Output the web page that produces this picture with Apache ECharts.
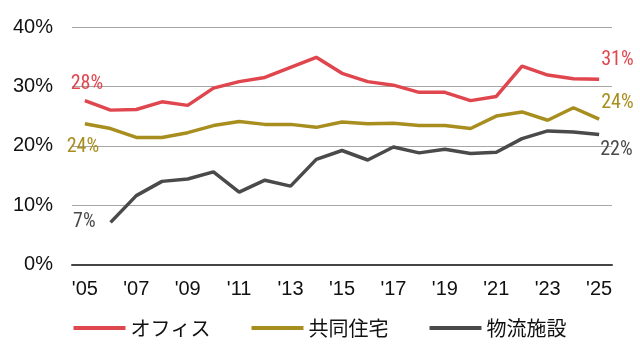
<!DOCTYPE html>
<html>
<head>
<meta charset="utf-8">
<script src="https://cdn.jsdelivr.net/npm/echarts@6/dist/echarts.min.js"></script>
<style>
html,body{margin:0;padding:0;background:#fff;}
#c{width:640px;height:360px;}
</style>
</head>
<body>
<div id="c"></div>
<script>
var years = ["'05","'06","'07","'08","'09","'10","'11","'12","'13","'14","'15","'16","'17","'18","'19","'20","'21","'22","'23","'24","'25"];
var seriesNames = ["オフィス","共同住宅","物流施設"];
var office = [27.6,26.0,26.1,27.4,26.8,29.7,30.8,31.5,33.2,34.9,32.2,30.8,30.2,29.0,29.0,27.6,28.3,33.4,31.9,31.3,31.2];
var housing = [23.7,22.9,21.4,21.4,22.2,23.4,24.1,23.6,23.6,23.1,24.0,23.7,23.8,23.4,23.4,22.9,25.0,25.7,24.3,26.4,24.5];
var logistics = [null,7.1,11.6,14.0,14.4,15.6,12.2,14.2,13.2,17.7,19.2,17.6,19.8,18.8,19.4,18.7,18.9,21.2,22.5,22.3,21.9];
var endLabels = [["28%","31%"],["24%","24%"],["7%","22%"]];
var yTicks = [0,10,20,30,40];

var colors = ['#E0464E','#A88E1F','#4A4A4A'];
var labelFont = '"Liberation Sans Narrow","Roboto Condensed","Roboto",sans-serif';

function buildData(vals, idx, firstIdx, firstOpt, lastOpt){
  return vals.map(function(v,i){
    var item = {value:v};
    if(i===firstIdx){
      item.label = Object.assign({show:true, formatter:endLabels[idx][0]}, firstOpt);
    } else if(i===vals.length-1){
      item.label = Object.assign({show:true, formatter:endLabels[idx][1]}, lastOpt);
    }
    return item;
  });
}

var lblBase = {fontSize:20, fontFamily:labelFont};

var chart = echarts.init(document.getElementById('c'), null, {renderer:'canvas'});
chart.setOption({
  animation:false,
  backgroundColor:'#fff',
  color:colors,
  grid:{left:72, right:28, top:27, bottom:95.5, containLabel:false},
  xAxis:{
    type:'category',
    data:years,
    boundaryGap:true,
    axisTick:{show:false},
    axisLine:{show:true, lineStyle:{color:'#444', width:2}},
    axisLabel:{interval:1, color:'#111', fontSize:20, margin:15, fontFamily:'"Liberation Sans",Arial,sans-serif'}
  },
  yAxis:{
    type:'value',
    min:yTicks[0], max:yTicks[yTicks.length-1], interval:10,
    axisLine:{show:false},
    axisTick:{show:false},
    splitLine:{lineStyle:{color:'#A6A6A6', width:1}},
    axisLabel:{formatter:'{value}%', color:'#111', fontSize:20, margin:19, fontFamily:'"Liberation Sans",Arial,sans-serif'}
  },
  legend:{
    top:313, left:'center',
    itemWidth:52, itemHeight:4, itemGap:41,
    icon:'rect',
    textStyle:{fontSize:20, color:'#111', fontFamily:'"Noto Sans CJK JP",sans-serif'},
    data:seriesNames
  },
  series:[
    {name:seriesNames[0], type:'line', symbol:'circle', symbolSize:0, showSymbol:true,
     lineStyle:{width:3.5, color:colors[0]}, itemStyle:{color:colors[0]},
     data:buildData(office,0,0,
       Object.assign({position:'top', offset:[2,-2], color:colors[0]},lblBase),
       Object.assign({position:'right', offset:[-3,-19], color:colors[0]},lblBase))},
    {name:seriesNames[1], type:'line', symbol:'circle', symbolSize:0, showSymbol:true,
     lineStyle:{width:3.5, color:colors[1]}, itemStyle:{color:colors[1]},
     data:buildData(housing,1,0,
       Object.assign({position:'bottom', offset:[-2,8], color:colors[1]},lblBase),
       Object.assign({position:'right', offset:[-3,-16], color:colors[1]},lblBase))},
    {name:seriesNames[2], type:'line', symbol:'circle', symbolSize:0, showSymbol:true,
     lineStyle:{width:3.5, color:colors[2]}, itemStyle:{color:colors[2]},
     data:buildData(logistics,2,1,
       Object.assign({position:'left', offset:[-10,0], color:colors[2]},lblBase),
       Object.assign({position:'right', offset:[-4,16], color:colors[2]},lblBase))}
  ]
});
</script>
</body>
</html>
